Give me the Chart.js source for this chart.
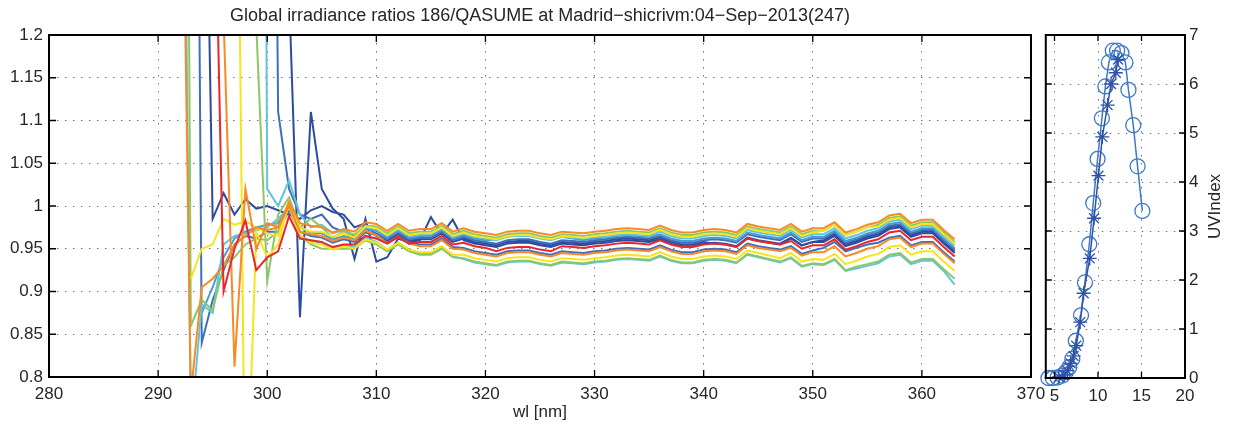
<!DOCTYPE html>
<html>
<head>
<meta charset="utf-8">
<title>Global irradiance ratios 186/QASUME</title>
<script src="https://cdn.jsdelivr.net/npm/chart.js@4.4.1/dist/chart.umd.min.js"></script>
<style>
  body { margin: 0; background: #fff; }
  #wrap { position: relative; width: 1237px; height: 433px; }
  #ratioChart { position: absolute; left: 0; top: 0; }
  #uvChart { position: absolute; left: 1037px; top: 0; }
</style>
</head>
<body>
<div id="wrap">
  <canvas id="ratioChart" width="1060" height="433"></canvas>
  <canvas id="uvChart" width="200" height="433"></canvas>
</div>
<script>
// wavelength grid [nm]
var wl = [292, 293, 294, 295, 296, 297, 298, 299, 300, 301, 302,
          303, 304, 305, 306, 307, 308, 309, 310,
          311, 312, 313, 314, 315, 316, 317, 318, 319, 320,
          321, 322, 323, 324, 325, 326, 327, 328, 329, 330,
          331, 332, 333, 334, 335, 336, 337, 338, 339, 340,
          341, 342, 343, 344, 345, 346, 347, 348, 349, 350,
          351, 352, 353, 354, 355, 356, 357, 358, 359, 360,
          361, 362, 363];

// ratio 186/QASUME, one array per scan
var red1 = [null, null, null, 1.5, 0.90, 0.95, 0.983, 0.925, 0.94, 0.947, 0.988,
  0.962, 0.96, 0.958, 0.952, 0.955, 0.955, 0.965, 0.962,
  0.956, 0.964, 0.956, 0.958, 0.958, 0.965, 0.955, 0.957, 0.953, 0.951,
  0.947, 0.951, 0.952, 0.952, 0.949, 0.947, 0.953, 0.952, 0.951, 0.953,
  0.954, 0.956, 0.957, 0.956, 0.955, 0.960, 0.955, 0.952, 0.952, 0.955,
  0.956, 0.955, 0.952, 0.962, 0.959, 0.957, 0.955, 0.959, 0.950, 0.954,
  0.954, 0.961, 0.949, 0.953, 0.958, 0.961, 0.969, 0.971, 0.960, 0.964,
  0.964, 0.952, 0.941];
var orange1 = [null, null, null, null, 1.22, 0.812, 1.02, 0.95, 0.98, 0.975, 1.005,
  0.980, 0.977, 0.975, 0.969, 0.973, 0.970, 0.981, 0.979,
  0.971, 0.979, 0.971, 0.973, 0.973, 0.980, 0.970, 0.974, 0.970, 0.968,
  0.966, 0.970, 0.971, 0.971, 0.968, 0.966, 0.970, 0.969, 0.968, 0.970,
  0.971, 0.973, 0.974, 0.973, 0.972, 0.977, 0.972, 0.969, 0.969, 0.972,
  0.973, 0.972, 0.969, 0.979, 0.976, 0.974, 0.972, 0.979, 0.970, 0.974,
  0.974, 0.981, 0.969, 0.973, 0.978, 0.981, 0.989, 0.991, 0.980, 0.984,
  0.984, 0.972, 0.961];
var orange2 = [1.62, 0.78, 0.905, 0.915, 0.93, 0.955, 0.965, 0.975, 0.972, 0.975, 1.0,
  0.97, 0.967, 0.965, 0.959, 0.963, 0.960, 0.971, 0.966,
  0.956, 0.964, 0.956, 0.953, 0.953, 0.960, 0.950, 0.949, 0.945, 0.943,
  0.941, 0.945, 0.946, 0.946, 0.943, 0.941, 0.945, 0.944, 0.943, 0.945,
  0.946, 0.948, 0.949, 0.948, 0.947, 0.952, 0.947, 0.944, 0.944, 0.947,
  0.948, 0.947, 0.944, 0.954, 0.951, 0.949, 0.947, 0.951, 0.942, 0.946,
  0.946, 0.953, 0.941, 0.945, 0.950, 0.953, 0.961, 0.963, 0.952, 0.956,
  0.956, 0.944, 0.933];
var yellow1 = [null, null, null, null, null, 1.8, 0.6, 0.97, 0.94, 0.955, 1.005,
  0.975, 0.970, 0.970, 0.964, 0.968, 0.963, 0.976, 0.974,
  0.966, 0.974, 0.966, 0.968, 0.968, 0.975, 0.965, 0.969, 0.965, 0.963,
  0.961, 0.965, 0.966, 0.966, 0.963, 0.961, 0.965, 0.964, 0.963, 0.965,
  0.966, 0.968, 0.969, 0.968, 0.967, 0.972, 0.967, 0.964, 0.964, 0.967,
  0.968, 0.967, 0.964, 0.974, 0.971, 0.969, 0.967, 0.974, 0.965, 0.969,
  0.971, 0.978, 0.966, 0.970, 0.975, 0.976, 0.984, 0.986, 0.975, 0.979,
  0.979, 0.967, 0.956];
var yellow2 = [null, 0.915, 0.95, 0.955, 0.985, 0.978, 0.982, 0.975, 0.968, 0.965, 1.0,
  0.965, 0.957, 0.955, 0.949, 0.953, 0.950, 0.961, 0.957,
  0.949, 0.957, 0.949, 0.946, 0.946, 0.953, 0.943, 0.943, 0.939, 0.937,
  0.935, 0.939, 0.940, 0.940, 0.937, 0.935, 0.939, 0.938, 0.937, 0.939,
  0.940, 0.942, 0.943, 0.942, 0.941, 0.946, 0.941, 0.938, 0.938, 0.941,
  0.942, 0.941, 0.938, 0.948, 0.945, 0.942, 0.939, 0.945, 0.935, 0.938,
  0.937, 0.944, 0.932, 0.936, 0.941, 0.944, 0.952, 0.954, 0.943, 0.947,
  0.947, 0.935, 0.924];
var green1 = [null, null, null, null, null, null, null, 1.21, 0.912, 0.99, 1.01,
  0.975, 0.985, 0.975, 0.963, 0.970, 0.966, 0.977, 0.976,
  0.968, 0.976, 0.968, 0.970, 0.970, 0.977, 0.967, 0.971, 0.967, 0.965,
  0.963, 0.967, 0.968, 0.968, 0.965, 0.963, 0.967, 0.966, 0.965, 0.967,
  0.968, 0.970, 0.971, 0.970, 0.969, 0.974, 0.969, 0.966, 0.966, 0.969,
  0.970, 0.969, 0.966, 0.976, 0.973, 0.971, 0.969, 0.976, 0.967, 0.971,
  0.971, 0.978, 0.966, 0.970, 0.975, 0.978, 0.986, 0.988, 0.977, 0.981,
  0.981, 0.969, 0.958];
var green2 = [3.0, 0.86, 0.89, 0.878, 0.93, 0.94, 0.955, 0.962, 0.96, 0.97, 1.0,
  0.965, 0.955, 0.95, 0.95, 0.95, 0.95, 0.96, 0.955,
  0.947, 0.955, 0.947, 0.943, 0.943, 0.950, 0.940, 0.939, 0.935, 0.933,
  0.931, 0.935, 0.936, 0.936, 0.933, 0.931, 0.935, 0.934, 0.933, 0.935,
  0.936, 0.938, 0.939, 0.938, 0.937, 0.942, 0.937, 0.934, 0.934, 0.937,
  0.938, 0.937, 0.934, 0.944, 0.941, 0.938, 0.935, 0.940, 0.930, 0.933,
  0.932, 0.938, 0.925, 0.929, 0.932, 0.935, 0.943, 0.945, 0.934, 0.938,
  0.938, 0.926, 0.915];
var cyan1 = [null, null, null, null, null, null, null, 3.5, 1.02, 1.0, 1.03,
  0.99, 0.975, 0.978, 0.968, 0.972, 0.966, 0.975, 0.973,
  0.965, 0.973, 0.965, 0.967, 0.967, 0.974, 0.964, 0.968, 0.964, 0.962,
  0.960, 0.964, 0.965, 0.965, 0.962, 0.960, 0.964, 0.963, 0.962, 0.964,
  0.964, 0.966, 0.967, 0.966, 0.965, 0.970, 0.965, 0.962, 0.962, 0.965,
  0.966, 0.965, 0.962, 0.972, 0.969, 0.967, 0.965, 0.972, 0.963, 0.967,
  0.967, 0.974, 0.962, 0.966, 0.971, 0.974, 0.982, 0.984, 0.973, 0.977,
  0.977, 0.965, 0.954];
var cyan2 = [1.9, 0.74, 0.885, 0.875, 0.955, 0.965, 0.968, 0.972, 0.975, 0.985, 0.998,
  0.965, 0.959, 0.957, 0.951, 0.955, 0.952, 0.963, 0.958,
  0.949, 0.957, 0.949, 0.944, 0.944, 0.951, 0.941, 0.938, 0.934, 0.932,
  0.930, 0.934, 0.935, 0.935, 0.932, 0.930, 0.934, 0.933, 0.932, 0.934,
  0.935, 0.937, 0.938, 0.937, 0.936, 0.941, 0.936, 0.933, 0.933, 0.936,
  0.937, 0.936, 0.933, 0.943, 0.940, 0.937, 0.934, 0.939, 0.929, 0.932,
  0.931, 0.937, 0.924, 0.927, 0.930, 0.933, 0.941, 0.943, 0.932, 0.936,
  0.936, 0.924, 0.908];
var lightBlue1 = [null, null, 0.875, 0.905, 0.94, 0.962, 0.97, 0.975, 0.978, 0.98, 1.0,
  0.975, 0.969, 0.968, 0.961, 0.965, 0.962, 0.973, 0.971,
  0.963, 0.971, 0.963, 0.965, 0.965, 0.972, 0.962, 0.966, 0.962, 0.960,
  0.961, 0.965, 0.966, 0.966, 0.963, 0.961, 0.964, 0.962, 0.960, 0.962,
  0.963, 0.965, 0.966, 0.965, 0.964, 0.967, 0.962, 0.959, 0.959, 0.962,
  0.963, 0.962, 0.959, 0.969, 0.966, 0.964, 0.962, 0.969, 0.960, 0.964,
  0.964, 0.971, 0.959, 0.963, 0.968, 0.971, 0.979, 0.981, 0.970, 0.974,
  0.974, 0.962, 0.951];
var blue1 = [null, null, null, null, null, null, null, null, 2.5, 1.11, 1.02,
  0.99, 0.985, 0.99, 0.975, 0.97, 0.965, 0.975, 0.968,
  0.961, 0.969, 0.961, 0.963, 0.963, 0.970, 0.960, 0.964, 0.960, 0.958,
  0.956, 0.960, 0.961, 0.961, 0.958, 0.956, 0.960, 0.959, 0.958, 0.960,
  0.961, 0.963, 0.964, 0.963, 0.962, 0.965, 0.960, 0.957, 0.957, 0.960,
  0.961, 0.960, 0.957, 0.967, 0.964, 0.962, 0.960, 0.967, 0.958, 0.962,
  0.962, 0.969, 0.957, 0.961, 0.966, 0.969, 0.977, 0.979, 0.968, 0.972,
  0.972, 0.960, 0.949];
var blue2 = [null, 2.6, 0.84, 0.89, 0.925, 0.955, 0.965, 0.962, 0.97, 0.97, 0.995,
  0.97, 0.965, 0.963, 0.957, 0.961, 0.958, 0.969, 0.966,
  0.957, 0.965, 0.957, 0.955, 0.955, 0.962, 0.952, 0.951, 0.947, 0.945,
  0.943, 0.947, 0.948, 0.948, 0.945, 0.943, 0.947, 0.946, 0.945, 0.947,
  0.948, 0.950, 0.951, 0.950, 0.949, 0.954, 0.949, 0.946, 0.946, 0.949,
  0.950, 0.949, 0.946, 0.956, 0.953, 0.951, 0.949, 0.953, 0.944, 0.948,
  0.951, 0.958, 0.947, 0.951, 0.955, 0.957, 0.963, 0.965, 0.954, 0.958,
  0.958, 0.946, 0.935];
var darkBlue1 = [null, null, 1.7, 0.985, 1.015, 0.99, 1.008, 0.997, 1.0, 0.995, 0.99,
  0.985, 0.995, 1.0, 0.993, 0.99, 0.975, 0.98, 0.965,
  0.959, 0.967, 0.959, 0.961, 0.961, 0.968, 0.958, 0.962, 0.958, 0.956,
  0.954, 0.958, 0.959, 0.959, 0.956, 0.954, 0.958, 0.957, 0.956, 0.958,
  0.959, 0.961, 0.962, 0.961, 0.960, 0.963, 0.958, 0.955, 0.955, 0.958,
  0.956, 0.955, 0.952, 0.962, 0.959, 0.957, 0.955, 0.962, 0.954, 0.958,
  0.960, 0.967, 0.955, 0.959, 0.964, 0.967, 0.975, 0.977, 0.966, 0.970,
  0.970, 0.958, 0.947];
var darkBlue2 = [null, null, null, null, null, null, null, null, null, null, 1.25,
  0.87, 1.11, 1.02, 0.997, 0.985, 0.938, 0.985, 0.935,
  0.940, 0.962, 0.957, 0.960, 0.987, 0.967, 0.984, 0.960, 0.956, 0.954,
  0.952, 0.956, 0.957, 0.957, 0.954, 0.952, 0.956, 0.955, 0.954, 0.956,
  0.957, 0.959, 0.960, 0.959, 0.958, 0.961, 0.956, 0.953, 0.953, 0.956,
  0.957, 0.956, 0.953, 0.963, 0.960, 0.958, 0.956, 0.963, 0.954, 0.958,
  0.958, 0.965, 0.953, 0.957, 0.962, 0.965, 0.973, 0.975, 0.964, 0.968,
  0.968, 0.956, 0.945];

// UV index through the day (hours UTC)
var hoursQasume = [4.3, 4.8, 5.35, 5.9, 6.3, 6.7, 7.05, 7.45, 8.05, 8.5, 9.0, 9.45,
                   9.95, 10.45, 10.85, 11.25, 11.7, 12.2, 12.7, 13.15, 13.5, 14.05, 14.55, 15.1];
var uvQasume = [0.0, 0.0, 0.01, 0.05, 0.12, 0.22, 0.39, 0.76, 1.28, 1.95, 2.73, 3.57,
                4.47, 5.30, 5.95, 6.44, 6.68, 6.68, 6.63, 6.44, 5.88, 5.16, 4.32, 3.41];
var hours186 = [5.5, 6.1, 6.5, 6.85, 7.2, 7.5, 7.95, 8.35, 9.05, 9.55, 10.05, 10.5, 11.1, 11.5, 12.05, 12.3];
var uv186 = [0.02, 0.06, 0.15, 0.3, 0.45, 0.66, 1.14, 1.73, 2.44, 3.26, 4.13, 4.92, 5.57, 6.0, 6.23, 6.5];

// tick positions
var wlTicks = [280, 290, 300, 310, 320, 330, 340, 350, 360, 370];
var ratioTicks = [0.8, 0.85, 0.9, 0.95, 1.0, 1.05, 1.1, 1.15, 1.2];
var hourTicks = [5, 10, 15, 20];
var uvTicks = [0, 1, 2, 3, 4, 5, 6, 7];

var RED = '#e8262b', ORANGE = '#f68a26', YELLOW = '#f6e41c', GREEN = '#8cc765',
    CYAN = '#63c5da', LIGHTBLUE = '#4d9bd5', BLUE = '#3f6fbc', DARKBLUE = '#2d4c9f';

var FONT = "'Liberation Sans', Arial, Helvetica, sans-serif";
var TXT = '#262626';
Chart.defaults.font.family = FONT;
Chart.defaults.color = TXT;

function pairs(xs, ys) {
    return xs.map(function (x, i) { return { x: x, y: ys[i] }; });
}

function fixTicks(list) {
    return function (scale) {
        scale.ticks = list.map(function (v) { return { value: v }; });
    };
}

// MATLAB-style box with inward ticks, plus title / right-side label
var boxPlugin = {
    id: 'box',
    afterDatasetsDraw: function (chart, args, opts) {
        var ctx = chart.ctx, a = chart.chartArea;
        var xs = chart.scales.x, ys = chart.scales.y;
        ctx.save();
        ctx.strokeStyle = '#000';
        ctx.lineWidth = 1.3;
        ctx.beginPath();
        xs.ticks.forEach(function (t) {
            var p = xs.getPixelForValue(t.value);
            ctx.moveTo(p, a.bottom); ctx.lineTo(p, a.bottom - opts.tick);
            ctx.moveTo(p, a.top); ctx.lineTo(p, a.top + opts.tick);
        });
        ys.ticks.forEach(function (t) {
            var p = ys.getPixelForValue(t.value);
            ctx.moveTo(a.left, p); ctx.lineTo(a.left + opts.tick, p);
            ctx.moveTo(a.right, p); ctx.lineTo(a.right - opts.tick, p);
        });
        ctx.stroke();
        ctx.lineWidth = 2;
        ctx.strokeRect(a.left, a.top, a.right - a.left, a.bottom - a.top);

        ctx.fillStyle = TXT;
        ctx.textAlign = 'center';
        ctx.textBaseline = 'middle';
        if (opts.title) {
            ctx.font = '18px ' + FONT;
            ctx.fillText(opts.title, (a.left + a.right) / 2, 16);
        }
        if (opts.sideLabel) {
            ctx.font = '17px ' + FONT;
            ctx.translate(opts.sideX, (a.top + a.bottom) / 2);
            ctx.rotate(-Math.PI / 2);
            ctx.fillText(opts.sideLabel, 0, 0);
        }
        ctx.restore();
    }
};

var gridOpts = { color: 'rgba(0,0,0,0.55)', lineWidth: 1, drawTicks: false };
var dotted = { display: false, dash: [1.5, 6.5] };

var ratioSets = [
    { data: red1, color: RED },
    { data: orange1, color: ORANGE },
    { data: orange2, color: ORANGE },
    { data: yellow1, color: YELLOW },
    { data: yellow2, color: YELLOW },
    { data: green1, color: GREEN },
    { data: green2, color: GREEN },
    { data: cyan1, color: CYAN },
    { data: cyan2, color: CYAN },
    { data: lightBlue1, color: LIGHTBLUE },
    { data: blue1, color: BLUE },
    { data: blue2, color: BLUE },
    { data: darkBlue1, color: DARKBLUE },
    { data: darkBlue2, color: DARKBLUE }
];

new Chart(document.getElementById('ratioChart'), {
    type: 'line',
    data: {
        datasets: ratioSets.map(function (s) {
            return {
                data: pairs(wl, s.data),
                borderColor: s.color,
                borderWidth: 2,
                pointRadius: 0,
                tension: 0,
                spanGaps: false
            };
        })
    },
    options: {
        responsive: false,
        animation: false,
        layout: { padding: { top: 35, right: 29, left: 0, bottom: 0 } },
        plugins: {
            legend: { display: false },
            tooltip: { enabled: false },
            box: { tick: 7, title: 'Global irradiance ratios 186/QASUME at Madrid\u2212shicrivm:04\u2212Sep\u22122013(247)' }
        },
        scales: {
            x: {
                type: 'linear', min: 280, max: 370,
                afterBuildTicks: fixTicks(wlTicks),
                afterFit: function (s) { s.height = 56; },
                grid: gridOpts, border: dotted,
                ticks: { font: { size: 17 }, padding: 7, maxRotation: 0, color: TXT },
                title: { display: true, text: 'wl [nm]', font: { size: 17 }, color: TXT, padding: { top: 0, bottom: 10 } }
            },
            y: {
                type: 'linear', min: 0.8, max: 1.2,
                afterBuildTicks: fixTicks(ratioTicks),
                afterFit: function (s) { s.width = 49; },
                grid: gridOpts, border: dotted,
                ticks: {
                    font: { size: 17 }, padding: 6, color: TXT,
                    callback: function (v) { return String(+v.toFixed(2)); }
                }
            }
        }
    },
    plugins: [boxPlugin]
});

new Chart(document.getElementById('uvChart'), {
    type: 'line',
    data: {
        datasets: [
            {
                data: pairs(hours186, uv186),
                borderColor: '#2f52a6',
                borderWidth: 1.5,
                pointStyle: 'star',
                pointRadius: 7,
                pointBorderWidth: 1.3,
                pointBorderColor: '#2f52a6',
                pointBackgroundColor: 'rgba(0,0,0,0)',
                clip: false
            },
            {
                data: pairs(hoursQasume, uvQasume),
                borderColor: '#3d79c6',
                borderWidth: 1.5,
                pointStyle: 'circle',
                pointRadius: 7.5,
                pointBorderWidth: 1.3,
                pointBorderColor: '#3d79c6',
                pointBackgroundColor: 'rgba(0,0,0,0)',
                clip: false
            }
        ]
    },
    options: {
        responsive: false,
        animation: false,
        layout: { padding: { top: 35, left: 4, right: 0, bottom: 0 } },
        plugins: {
            legend: { display: false },
            tooltip: { enabled: false },
            box: { tick: 6, sideLabel: 'UVIndex', sideX: 178 }
        },
        scales: {
            x: {
                type: 'linear', min: 4, max: 20,
                afterBuildTicks: fixTicks(hourTicks),
                afterFit: function (s) { s.height = 55; },
                grid: gridOpts, border: dotted,
                ticks: { font: { size: 17 }, padding: 8, maxRotation: 0, color: TXT }
            },
            y: {
                type: 'linear', position: 'right', min: 0, max: 7,
                afterBuildTicks: fixTicks(uvTicks),
                afterFit: function (s) { s.width = 52; },
                grid: gridOpts, border: dotted,
                ticks: { font: { size: 17 }, padding: 4, color: TXT }
            }
        }
    },
    plugins: [boxPlugin]
});
</script>
</body>
</html>
